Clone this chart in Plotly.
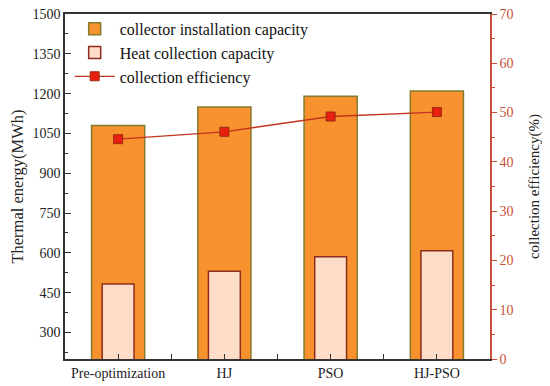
import plotly.graph_objects as go

categories = ["Pre-optimization", "HJ", "PSO", "HJ-PSO"]
installation_capacity = [1080, 1150, 1190, 1210]
heat_collection = [483, 531, 585, 608]
efficiency = [44.6, 46.1, 49.2, 50.1]
left_ticks = [300, 450, 600, 750, 900, 1050, 1200, 1350, 1500]
right_ticks = [0, 10, 20, 30, 40, 50, 60, 70]

xpos = list(range(len(categories)))
FONT = "Liberation Serif, Times New Roman, serif"
RED = "#C8503C"

fig = go.Figure()
fig.add_trace(go.Bar(
    x=xpos, y=installation_capacity, width=0.5,
    name="collector installation capacity",
    marker=dict(color="#F7922F", line=dict(color="#857A2C", width=1.5)),
))
fig.add_trace(go.Bar(
    x=xpos, y=heat_collection, width=0.3,
    name="Heat collection capacity",
    marker=dict(color="#FDDDC8", line=dict(color="#8E2D1E", width=1.5)),
))
fig.add_trace(go.Scatter(
    x=xpos, y=efficiency, yaxis="y2", mode="lines+markers",
    name="collection efficiency",
    line=dict(color="#C0341E", width=1.3),
    marker=dict(symbol="square", size=9, color="#E8200F",
                line=dict(color="#9A2A10", width=1)),
))

fig.update_layout(
    width=542, height=378,
    margin=dict(l=57, r=60, t=6, b=27, autoexpand=False),
    paper_bgcolor="white", plot_bgcolor="white",
    barmode="overlay",
    font=dict(family=FONT, size=14, color="#222"),
    showlegend=True,
    legend=dict(x=0.011, y=0.99, yref="container", xanchor="left", yanchor="top",
                bgcolor="rgba(0,0,0,0)", font=dict(size=16, color="#111"),
                tracegroupgap=0, itemwidth=40),
    xaxis=dict(
        range=[-0.5, 3.5], tickvals=xpos, ticktext=categories,
        showline=True, linecolor="#333", linewidth=1.5, mirror=True,
        ticks="inside", ticklen=5, tickcolor="#333",
        minor=dict(tickvals=[0.5, 1.5, 2.5], ticks="inside", ticklen=5, tickcolor="#333"),
        showgrid=False, zeroline=False, tickfont=dict(size=14, color="#222"),
        automargin=False, ticklabeloverflow="allow",
    ),
    yaxis=dict(
        range=[200, 1500], tickvals=left_ticks,
        showline=True, linecolor="#333", linewidth=1.5,
        ticks="inside", ticklen=6, tickcolor="#333",
        minor=dict(dtick=75, tick0=225, ticks="inside", ticklen=3, tickcolor="#333"),
        showgrid=False, zeroline=False, automargin=False, ticklabeloverflow="allow",
        title=dict(text="Thermal energy(MWh)", font=dict(size=16.5, color="#222"), standoff=8),
        tickfont=dict(size=14, color="#222"),
    ),
    yaxis2=dict(
        range=[0, 70], tickvals=right_ticks, overlaying="y", side="right",
        showline=True, linecolor=RED, linewidth=1.5,
        ticks="outside", ticklen=5, tickcolor=RED,
        minor=dict(dtick=5, ticks="outside", ticklen=3, tickcolor=RED),
        showgrid=False, zeroline=False, automargin=False, ticklabeloverflow="allow",
        title=dict(text="collection efficiency(%)", font=dict(size=15, color="#222"), standoff=16),
        tickfont=dict(size=14, color=RED),
    ),
)

fig.write_html("out.html")
